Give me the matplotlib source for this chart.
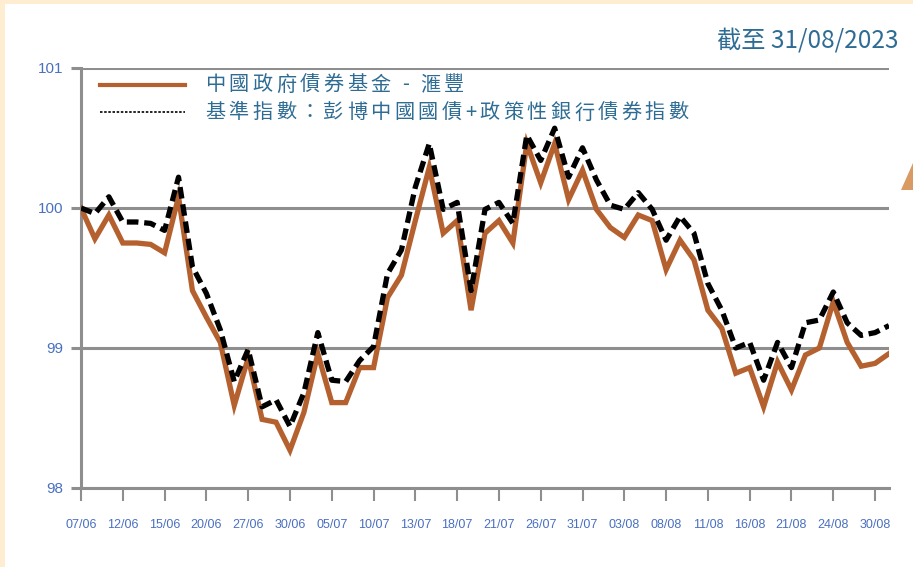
import matplotlib
matplotlib.use("Agg")
import matplotlib.pyplot as plt
from matplotlib.patches import Rectangle, Polygon
from matplotlib.lines import Line2D

# ---- data ----
tick_labels = ["07/06", "12/06", "15/06", "20/06", "27/06", "30/06", "05/07", "10/07",
               "13/07", "18/07", "21/07", "26/07", "31/07", "03/08", "08/08", "11/08",
               "16/08", "21/08", "24/08", "30/08"]
fund = [100.00, 99.78, 99.95, 99.75, 99.75, 99.74, 99.68, 100.08, 99.41, 99.22,
        99.04, 98.59, 98.93, 98.49, 98.47, 98.27, 98.54, 98.96, 98.61, 98.61,
        98.86, 98.86, 99.36, 99.52, 99.91, 100.29, 99.82, 99.91, 99.27, 99.82,
        99.91, 99.75, 100.46, 100.18, 100.46, 100.06, 100.27, 99.99, 99.86, 99.79,
        99.95, 99.91, 99.56, 99.77, 99.63, 99.27, 99.14, 98.82, 98.86, 98.58,
        98.90, 98.70, 98.95, 99.00, 99.33, 99.04, 98.87, 98.89, 98.96]
bench = [100.00, 99.96, 100.08, 99.90, 99.90, 99.89, 99.84, 100.22, 99.58, 99.39,
         99.13, 98.76, 98.99, 98.58, 98.63, 98.44, 98.68, 99.11, 98.77, 98.76,
         98.91, 99.01, 99.53, 99.70, 100.15, 100.46, 99.99, 100.04, 99.41, 99.99,
         100.04, 99.89, 100.52, 100.34, 100.57, 100.22, 100.43, 100.20, 100.02, 99.99,
         100.11, 99.99, 99.77, 99.94, 99.82, 99.46, 99.27, 99.00, 99.04, 98.77,
         99.04, 98.86, 99.18, 99.20, 99.40, 99.18, 99.09, 99.11, 99.16]
y_ticks = [98, 99, 100, 101]
fund_label = "中國政府債券基金 - 滙豐"
bench_label = "基準指數：彭博中國國債+政策性銀行債券指數"
title = "截至 31/08/2023"

W, H = 913, 567
fig = plt.figure(figsize=(W / 100, H / 100), dpi=100)
fig.patch.set_facecolor("#FFEDD2")
fig.patches.append(Rectangle((5 / W, 0), 1, 1 - 4 / H, transform=fig.transFigure,
                             facecolor="white", edgecolor="none", zorder=-10))
fig.patches.append(Polygon([(901 / W, 1 - 190 / H), (913 / W, 1 - 163 / H), (913 / W, 1 - 190 / H)],
                           closed=True, transform=fig.transFigure,
                           facecolor="#D99A64", edgecolor="none", zorder=-9))

left, right, top, bottom = 81, 889, 68, 488
ax = fig.add_axes([left / W, 1 - bottom / H, (right - left) / W, (bottom - top) / H])
ax.set_facecolor("none")
ax.set_zorder(1)

x = list(range(len(fund)))
grid_col = "#8E8E8E"
for yv in y_ticks:
    ax.axhline(yv, color=grid_col, lw=2.2, zorder=1)

ax.plot(x, fund, color="#B5612F", lw=3.8, zorder=3, solid_joinstyle="miter")
ax.plot(x, bench, color="black", lw=3.8, dashes=(2.2, 1.1), zorder=4)

ax.set_xlim(0, len(fund) - 1)
ax.set_ylim(98, 101)
ax.set_yticks(y_ticks)
ax.set_yticklabels([str(v) for v in y_ticks])
ax.set_xticks(list(range(0, 3 * len(tick_labels), 3)))
ax.set_xticklabels(tick_labels)

for s in ["top", "right"]:
    ax.spines[s].set_visible(False)
ax.spines["left"].set_color(grid_col)
ax.spines["left"].set_linewidth(2.2)
ax.spines["bottom"].set_color(grid_col)
ax.spines["bottom"].set_linewidth(2.2)

lab_font = ["Liberation Sans", "DejaVu Sans"]
ax.tick_params(axis="x", direction="out", length=9, width=1.5, color=grid_col,
               labelcolor="#4A70C0", labelsize=9, pad=13)
ax.tick_params(axis="y", direction="out", length=7, width=2.2, color=grid_col,
               labelcolor="#4A70C0", labelsize=11, pad=6)
for t in ax.get_xticklabels() + ax.get_yticklabels():
    t.set_fontfamily(lab_font)

cjk = ["Noto Sans CJK TC", "DejaVu Sans"]
txt_col = "#2E6C94"
fig.text(898 / W, 1 - 40 / H, title, ha="right", va="center", fontsize=17.5,
         color=txt_col, family=cjk)

renderer = fig.canvas.get_renderer()


def spaced_text(x0, y0, s, size, gap):
    xp = x0
    for ch in s:
        t = fig.text(xp / W, 1 - y0 / H, ch, ha="left", va="center", fontsize=size,
                     color=txt_col, family=cjk)
        w = t.get_window_extent(renderer).width
        if ch == " ":
            w = size * 0.3
        xp += w + gap


# legend
fig.lines.append(Line2D([100 / W, 185 / W], [1 - 85 / H, 1 - 85 / H], transform=fig.transFigure,
                        color="#B5612F", lw=3))
fig.lines.append(Line2D([100 / W, 185 / W], [1 - 112 / H, 1 - 112 / H], transform=fig.transFigure,
                        color="black", lw=1.2, dashes=(1.5, 1.0)))
spaced_text(205, 85, fund_label, 14.5, 3.5)
spaced_text(205, 113, bench_label, 14.5, 3.5)

fig.savefig("out.png", dpi=100)
